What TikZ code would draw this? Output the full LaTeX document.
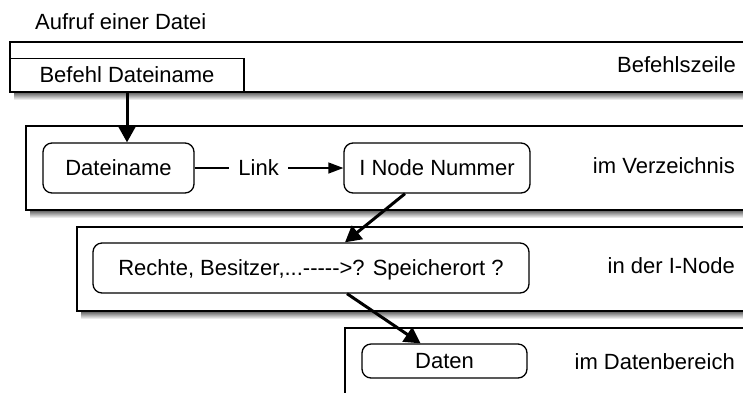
\documentclass[tikz,border=0pt]{standalone}
\usepackage{fontspec}
\setmainfont{Liberation Sans}[Ligatures=TeXOff]
\usetikzlibrary{arrows.meta}
\begin{document}
\begin{tikzpicture}[x=1pt,y=-1pt,
  txt/.style={font=\fontsize{22}{26}\selectfont},
  layer/.style={draw, line width=1.6pt, fill=white},
  shadowband/.style={top color=black!65, bottom color=white, draw=none},
  plainbox/.style={draw, line width=1.6pt, fill=white, inner sep=0pt, txt,
    text height=15.5pt, text depth=0pt},
  item/.style={draw, rounded corners=9pt, line width=1.3pt, fill=white,
    inner sep=0pt, txt, text height=15.5pt, text depth=0pt},
  lbl/.style={txt, inner sep=0pt, anchor=base east},
  flow/.style={line width=3pt, -{Triangle[length=16pt,width=17pt]}},
  link/.style={line width=1.3pt, -{Triangle[length=15pt,width=11pt]}}]
  \clip (0,0) rectangle (743,392);

  % title
  \node[txt, inner sep=0pt, anchor=base west] (title) at (35,29) {Aufruf einer Datei};

  % layer: command line
  \shade[shadowband] (14,92) rectangle (760,100);
  \path[layer] (10,42) rectangle (760,92);
  \node[lbl] (cmdlabel) at (736,72) {Befehlszeile};
  \node[plainbox, minimum width=234pt, minimum height=33pt] (befehl) at (127,75) {Befehl Dateiname};

  % layer: directory
  \shade[shadowband] (30,210) rectangle (760,218);
  \path[layer] (26,126) rectangle (760,210);
  \node[lbl] (dirlabel) at (735,173) {im Verzeichnis};
  \node[item, minimum width=151pt, minimum height=50pt] (datei) at (118.5,168) {Dateiname};
  \node[item, minimum width=186pt, minimum height=50pt] (inode) at (437,168) {I Node Nummer};

  % layer: i-node
  \shade[shadowband] (81,311) rectangle (760,319);
  \path[layer] (77,227) rectangle (760,311);
  \node[lbl] (inodelabel) at (735,273) {in der I-Node};
  \node[item, minimum width=436pt, minimum height=50pt] (rechte) at (311,268) {Rechte, Besitzer,...----->? Speicherort ?};

  % layer: data area
  \path[layer] (345,328) rectangle (760,410);
  \node[lbl] (datalabel) at (735,369) {im Datenbereich};
  \node[item, minimum width=165pt, minimum height=34pt] (daten) at (444.5,361) {Daten};

  % connectors
  \draw[flow] (befehl.south) -- (befehl.south |- datei.north);
  \draw[link] (datei.east) -- node[pos=0.43, fill=white, txt, inner xsep=9pt, inner ysep=2pt] (linklabel) {Link} (inode.west);
  \draw[flow] ([xshift=-32pt]inode.south) -- ([xshift=34pt]rechte.north);
  \draw[flow] ([xshift=36pt]rechte.south) -- ([xshift=-24pt]daten.north);
\end{tikzpicture}
\end{document}
